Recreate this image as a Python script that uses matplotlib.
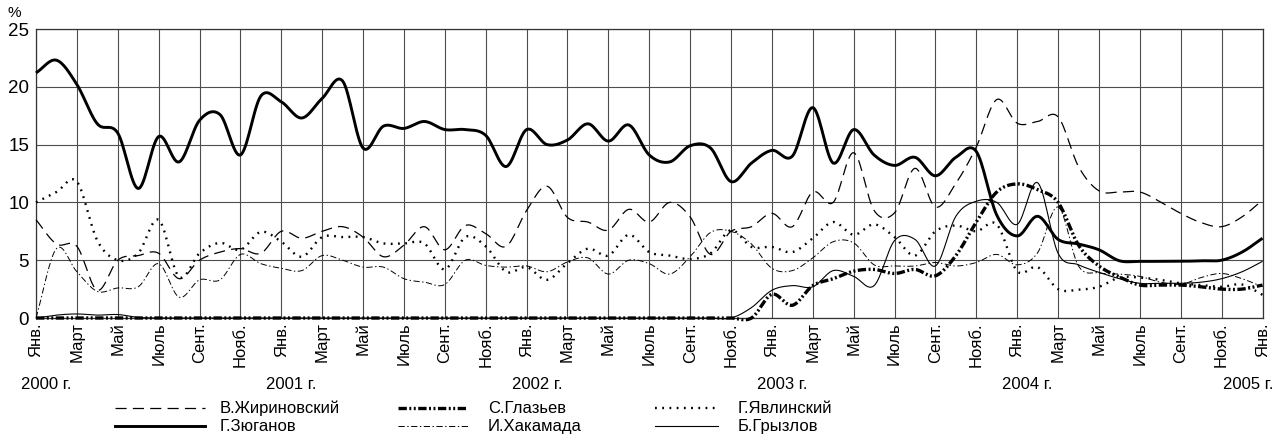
import numpy as np
import matplotlib
matplotlib.use("Agg")
import matplotlib.pyplot as plt
from matplotlib.lines import Line2D

plt.rcParams['font.family'] = ['Liberation Sans Narrow', 'Liberation Sans', 'DejaVu Sans']
plt.rcParams['lines.scale_dashes'] = False

# monthly ratings, Jan 2000 .. Jan 2005 (61 months), %
month_names = ["Янв.", "Март", "Май", "Июль", "Сент.", "Нояб."]
years = ["2000 г.", "2001 г.", "2002 г.", "2003 г.", "2004 г.", "2005 г."]

zhirinovsky = [8.5, 6.4, 6.2, 2.4, 5.0, 5.4, 5.6, 3.4, 5.0, 5.7, 6.0, 5.6, 7.5, 6.9, 7.5, 7.9,
               7.0, 5.3, 6.3, 7.9, 5.9, 8.0, 7.3, 6.2, 9.3, 11.4, 8.7, 8.3, 7.6, 9.4, 8.3, 10.0,
               8.75, 5.5, 7.5, 7.9, 9.05, 7.9, 10.9, 10.0, 14.3, 9.3, 9.1, 12.95, 9.6, 11.65,
               14.8, 18.9, 16.85, 17.0, 17.4, 13.1, 11.0, 10.9, 10.9, 10.05, 9.05, 8.25, 7.9,
               8.75, 10.2]
zyuganov = [21.2, 22.3, 20.2, 16.8, 16.0, 11.2, 15.7, 13.5, 17.1, 17.6, 14.1, 19.2, 18.7, 17.3,
            19.0, 20.5, 14.7, 16.6, 16.4, 17.0, 16.3, 16.3, 15.8, 13.1, 16.3, 15.0, 15.4, 16.8,
            15.3, 16.7, 14.1, 13.5, 14.9, 14.7, 11.8, 13.4, 14.5, 14.0, 18.2, 13.4, 16.3, 14.1,
            13.2, 13.9, 12.3, 13.9, 14.4, 8.9, 7.1, 8.8, 6.8, 6.4, 5.9, 4.95, 4.9, 4.9, 4.9,
            4.95, 5.0, 5.7, 6.9]
glazyev = [0.0] * 36 + [2.05, 1.1, 2.8, 3.4, 4.05, 4.2, 3.85, 4.2, 3.65, 5.4, 8.3, 10.9, 11.6,
                        11.1, 10.0, 6.3, 4.5, 3.55, 2.85, 2.85, 2.85, 2.7, 2.5, 2.5, 2.85]
khakamada = [0.0, 6.0, 4.0, 2.3, 2.6, 2.7, 4.7, 1.8, 3.3, 3.3, 5.5, 4.7, 4.3, 4.1, 5.4, 5.0, 4.4,
             4.4, 3.4, 3.1, 2.9, 5.0, 4.55, 4.4, 4.5, 4.0, 4.85, 5.2, 3.8, 5.0, 4.7, 3.8, 5.3,
             7.4, 7.5, 6.4, 4.3, 4.1, 5.2, 6.6, 6.5, 4.6, 4.5, 4.5, 4.8, 4.5, 4.8, 5.5, 4.6,
             5.65, 9.6, 4.5, 3.9, 3.8, 3.6, 3.1, 2.9, 3.5, 3.85, 3.4, 2.7]
yavlinsky = [10.0, 10.9, 11.8, 6.7, 5.0, 5.6, 8.5, 3.55, 5.6, 6.5, 5.9, 7.45, 6.6, 5.3, 7.0, 7.0,
             7.0, 6.45, 6.45, 6.45, 4.2, 7.0, 6.2, 4.0, 4.4, 3.3, 4.75, 6.0, 5.4, 7.2, 5.7, 5.4,
             5.1, 5.6, 7.6, 6.15, 6.15, 5.7, 6.9, 8.3, 7.2, 8.1, 7.0, 5.4, 7.5, 8.0, 7.5, 8.1,
             4.05, 4.4, 2.5, 2.45, 2.7, 3.5, 3.5, 3.3, 3.0, 2.85, 2.7, 2.9, 2.0]
gryzlov = [0.0, 0.25, 0.35, 0.25, 0.3, 0.05] + [0.0] * 29 + [
    0.9, 2.4, 2.8, 2.7, 4.1, 3.6, 2.8, 6.7, 6.8, 4.5, 8.8, 10.1, 10.0, 8.1, 11.7, 5.6, 4.6,
    3.95, 3.4, 3.0, 3.0, 3.0, 3.1, 3.4, 4.0, 4.9]


def smooth(values, n=16):
    """Catmull-Rom curve through the monthly points (drawing only)."""
    y = np.asarray(values, float)
    p = np.concatenate([[2 * y[0] - y[1]], y, [2 * y[-1] - y[-2]]])
    t = np.linspace(0, 1, n, endpoint=False)
    xs, ys = [], []
    for i in range(len(y) - 1):
        p0, p1, p2, p3 = p[i:i + 4]
        seg = 0.5 * (2 * p1 + (p2 - p0) * t + (2 * p0 - 5 * p1 + 4 * p2 - p3) * t ** 2
                     + (3 * p1 - p0 - 3 * p2 + p3) * t ** 3)
        xs.append(i + t)
        ys.append(seg)
    xs.append([len(y) - 1])
    ys.append([y[-1]])
    return np.concatenate(xs), np.concatenate(ys)


styles = [
    ("В.Жириновский", zhirinovsky, dict(lw=0.9, dashes=(8, 4.5))),
    ("Г.Зюганов", zyuganov, dict(lw=2.1)),
    ("С.Глазьев", glazyev, dict(lw=2.4, dashes=(6, 1.8, 1.4, 1.8, 1.4, 1.8))),
    ("И.Хакамада", khakamada, dict(lw=0.7, dashes=(4.5, 1.8, 1.0, 1.8))),
    ("Г.Явлинский", yavlinsky, dict(lw=1.7, dashes=(1.3, 3.9))),
    ("Б.Грызлов", gryzlov, dict(lw=0.8)),
]

fig = plt.figure(figsize=(12.79, 4.44), dpi=100)
ax = fig.add_axes([36 / 1279, 126 / 444, 1226.5 / 1279, 289 / 444])

for name, vals, st in styles:
    xs, ys = smooth(vals)
    ax.plot(xs, ys, color="black", clip_on=False, solid_capstyle="butt", zorder=3, **st)

ax.set_xlim(0, 60)
ax.set_ylim(0, 25)
ax.set_xticks(range(0, 61, 2))
ax.set_xticklabels([month_names[i % 6] for i in range(31)], rotation=90, va="top", fontsize=12)
ax.set_yticks(range(0, 26, 5))
ax.set_yticklabels([str(v) for v in range(0, 26, 5)], fontsize=13.5)
ax.tick_params(length=0)
ax.tick_params(axis="x", pad=3)
ax.tick_params(axis="y", pad=5)
ax.grid(True, color="#4d4d4d", lw=0.8)
ax.set_axisbelow(True)
for sp in ax.spines.values():
    sp.set_color("#333333")
    sp.set_linewidth(0.9)

fig.text(8 / 1279, 1 - 13 / 444, "%", fontsize=11, va="center", ha="left")

# year captions under January ticks
for i, yr in enumerate(years):
    xm = min(max(12 * i + 0.5, 0.15), 59.3)
    ax.text(xm, -0.23, yr, transform=ax.get_xaxis_transform(), ha="center", va="center",
            fontsize=12)

# legend drawn in pixel coordinates of the figure
lax = fig.add_axes([0, 0, 1, 1])
lax.set_xlim(0, 1279)
lax.set_ylim(444, 0)
lax.axis("off")
cols = [(115, 205, 220), (398, 468, 488), (655, 718, 738)]
rows = [408, 426]
order = [0, 2, 4, 1, 3, 5]
for k, idx in enumerate(order):
    name, vals, st = styles[idx]
    r, c = divmod(k, 3)
    x0, x1, xt = cols[c]
    lax.add_line(Line2D([x0, x1], [rows[r], rows[r]], color="black", **st))
    lax.text(xt, rows[r], name, ha="left", va="center", fontsize=12)

fig.savefig("out.png", dpi=100)
